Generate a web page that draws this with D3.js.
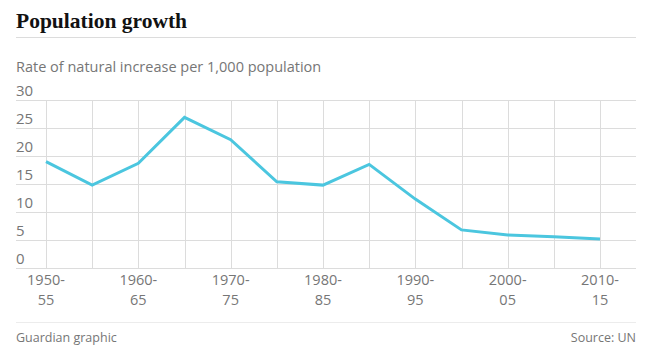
<!DOCTYPE html>
<html><head><meta charset="utf-8">
<script src="https://cdn.jsdelivr.net/npm/d3@7"></script>
<style>body{margin:0;background:#fff}svg{display:block}</style>
</head><body>
<svg id="c" width="666" height="359"></svg>
<script>
const years = [1950,1955,1960,1965,1970,1975,1980,1985,1990,1995,2000,2005,2010];
const rates = [19.0,14.8,18.7,26.9,22.9,15.4,14.8,18.5,12.3,6.8,5.9,5.6,5.2];
const yTicks = [0,5,10,15,20,25,30];
const xLabelYears = [1950,1960,1970,1980,1990,2000,2010];
const xLabelsTop = ["1950-","1960-","1970-","1980-","1990-","2000-","2010-"];
const xLabelsBottom = ["55","65","75","85","95","05","15"];
const title = "Population growth";
const subtitle = "Rate of natural increase per 1,000 population";
const credit = "Guardian graphic";
const source = "Source: UN";

const svg = d3.select("#c");
const L = 16, R = 636;
const x = d3.scaleLinear().domain([1950,2010]).range([46,600]);
const y = d3.scaleLinear().domain([0,30]).range([268,100]);
const grey = "#767676", grid = "#dcdcdc";
const sans = "'Open Sans', sans-serif";

svg.append("text").attr("x",L).attr("y",28).text(title)
  .attr("font-family","'Liberation Serif', serif").attr("font-weight","bold")
  .attr("font-size",21.5).attr("fill","#121212");
svg.append("line").attr("x1",L).attr("x2",R).attr("y1",37.5).attr("y2",37.5).attr("stroke",grid);
svg.append("text").attr("x",L).attr("y",72).text(subtitle)
  .attr("font-family",sans).attr("font-size",14.5).attr("fill",grey);

// horizontal grid
svg.append("g").selectAll("line").data(yTicks).join("line")
  .attr("x1",L).attr("x2",R).attr("y1",d=>Math.round(y(d))+0.5).attr("y2",d=>Math.round(y(d))+0.5)
  .attr("stroke",grid);
// vertical grid
svg.append("g").selectAll("line").data(years).join("line")
  .attr("x1",d=>Math.round(x(d))+0.5).attr("x2",d=>Math.round(x(d))+0.5)
  .attr("y1",y(30)).attr("y2",y(0)).attr("stroke",grid);
// y labels
svg.append("g").selectAll("text").data(yTicks).join("text")
  .attr("x",L).attr("y",d=>y(d)-4).text(d=>d)
  .attr("font-family",sans).attr("font-size",15).attr("fill",grey);
// x labels
const gx = svg.append("g").attr("font-family",sans).attr("font-size",14.5).attr("fill",grey).attr("text-anchor","middle");
gx.selectAll("text.t").data(xLabelYears).join("text").attr("class","t")
  .attr("x",d=>x(d)).attr("y",285).text((d,i)=>xLabelsTop[i]);
gx.selectAll("text.b").data(xLabelYears).join("text").attr("class","b")
  .attr("x",d=>x(d)).attr("y",305).text((d,i)=>xLabelsBottom[i]);

// line
const line = d3.line().x((d,i)=>x(years[i])).y(d=>y(d));
svg.append("path").datum(rates).attr("d",line).attr("fill","none")
  .attr("stroke","#4bc6df").attr("stroke-width",3).attr("stroke-linejoin","miter");

svg.append("line").attr("x1",L).attr("x2",R).attr("y1",322.5).attr("y2",322.5).attr("stroke","#ececec");
svg.append("text").attr("x",L).attr("y",342).text(credit)
  .attr("font-family",sans).attr("font-size",12.5).attr("fill",grey);
svg.append("text").attr("x",R).attr("y",342).attr("text-anchor","end").text(source)
  .attr("font-family",sans).attr("font-size",12.5).attr("fill",grey);
</script>
</body></html>
